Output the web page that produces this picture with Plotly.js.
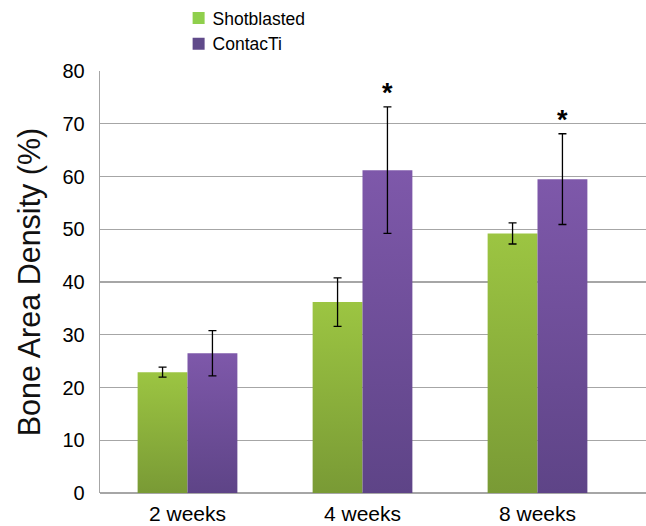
<!DOCTYPE html>
<html>
<head>
<meta charset="utf-8">
<script src="https://cdn.plot.ly/plotly-3.0.1.min.js"></script>
<style>html,body{margin:0;padding:0;background:#fff;}#chart{width:646px;height:526px;}</style>
</head>
<body>
<div id="chart"></div>
<script>
// ---- data ----
var categories = ["2 weeks", "4 weeks", "8 weeks"];
var seriesNames = ["Shotblasted", "ContacTi"];
var shotblasted = [22.9, 36.2, 49.2];
var shotblastedErr = [0.95, 4.6, 2.0];
var contacti = [26.5, 61.2, 59.5];
var contactiErr = [4.3, 12.0, 8.6];
var significant = [false, true, true]; // asterisk over ContacTi
var yTicks = [0, 10, 20, 30, 40, 50, 60, 70, 80];

var bargap = 0.43;
var FONT = '"Liberation Sans", Arial, sans-serif';

var traces = [
  {type: 'bar', name: seriesNames[0], x: categories, y: shotblasted,
   marker: {color: '#8cb63c'},
   error_y: {type: 'data', array: shotblastedErr, visible: true, color: '#000', thickness: 1.3, width: 4}},
  {type: 'bar', name: seriesNames[1], x: categories, y: contacti,
   marker: {color: '#6e4f9c'},
   error_y: {type: 'data', array: contactiErr, visible: true, color: '#000', thickness: 1.3, width: 4}}
];

var barHalf = (1 - bargap) / 4; // offset of second bar's centre from category centre
var annotations = [];
for (var i = 0; i < categories.length; i++) {
  if (significant[i]) {
    annotations.push({x: i + barHalf, y: contacti[i] + contactiErr[i] + 3.3, xref: 'x', yref: 'y',
      text: '<b>*</b>', showarrow: false, yanchor: 'middle', yshift: -4,
      font: {family: FONT, size: 27, color: '#000'}});
  }
}

var layout = {
  width: 646, height: 526,
  margin: {l: 100, r: 0, t: 70, b: 33},
  paper_bgcolor: '#fff', plot_bgcolor: '#fff',
  font: {family: FONT, color: '#000'},
  barmode: 'group', bargap: bargap, bargroupgap: 0,
  showlegend: true,
  legend: {x: 0.133, xanchor: 'left', y: 1.168, yanchor: 'top', orientation: 'v',
    font: {family: FONT, size: 17.5, color: '#000'}, bgcolor: 'rgba(0,0,0,0)',
    tracegroupgap: 0, itemwidth: 30},
  xaxis: {type: 'category', range: [-0.5, 2.62], showgrid: false, zeroline: false,
    showline: false, ticks: '', ticklabelstandoff: 6,
    tickfont: {family: FONT, size: 21, color: '#000'}, fixedrange: true},
  yaxis: {range: [0, 80], tickvals: yTicks, showgrid: true, gridcolor: '#a6a6a6', gridwidth: 1.3,
    zeroline: true, zerolinecolor: '#a6a6a6', zerolinewidth: 1.3,
    showline: true, linecolor: '#a6a6a6', linewidth: 1.3, ticks: '',
    ticklabelstandoff: 10,
    tickfont: {family: FONT, size: 20, color: '#000'},
    title: {text: 'Bone Area Density (%)', font: {family: FONT, size: 30.5, color: '#111'}, standoff: 12},
    fixedrange: true},
  annotations: annotations
};

function addGradients(gd) {
  var svgNS = 'http://www.w3.org/2000/svg';
  var svg = gd.querySelector('svg.main-svg');
  var defs = svg.querySelector('defs') || svg.insertBefore(document.createElementNS(svgNS, 'defs'), svg.firstChild);
  var stops = [['#9cc542', '#799a35'], ['#7e58aa', '#5e4487']];
  stops.forEach(function (s, k) {
    var g = document.createElementNS(svgNS, 'linearGradient');
    g.setAttribute('id', 'bargrad' + k);
    g.setAttribute('x1', '0'); g.setAttribute('y1', '0'); g.setAttribute('x2', '0'); g.setAttribute('y2', '1');
    var a = document.createElementNS(svgNS, 'stop'); a.setAttribute('offset', '0'); a.setAttribute('stop-color', s[0]);
    var b = document.createElementNS(svgNS, 'stop'); b.setAttribute('offset', '1'); b.setAttribute('stop-color', s[1]);
    g.appendChild(a); g.appendChild(b); defs.appendChild(g);
  });
  var tr = gd.querySelectorAll('.barlayer .trace');
  tr.forEach(function (t, k) {
    t.querySelectorAll('.point path').forEach(function (p) { p.style.fill = 'url(#bargrad' + k + ')'; });
  });
  var legendColors = ['#8fcf4c', '#604a8a'];
  gd.querySelectorAll('.legend .traces').forEach(function (t, k) {
    var lp = t.querySelector('.legendpoints');
    if (lp) lp.setAttribute('transform', 'translate(6,0)');
    t.querySelectorAll('.legendpoints path').forEach(function (p) { p.style.fill = legendColors[k]; p.style.stroke = 'none'; });
  });
}

Plotly.newPlot('chart', traces, layout, {displayModeBar: false, staticPlot: true}).then(addGradients);
</script>
</body>
</html>
